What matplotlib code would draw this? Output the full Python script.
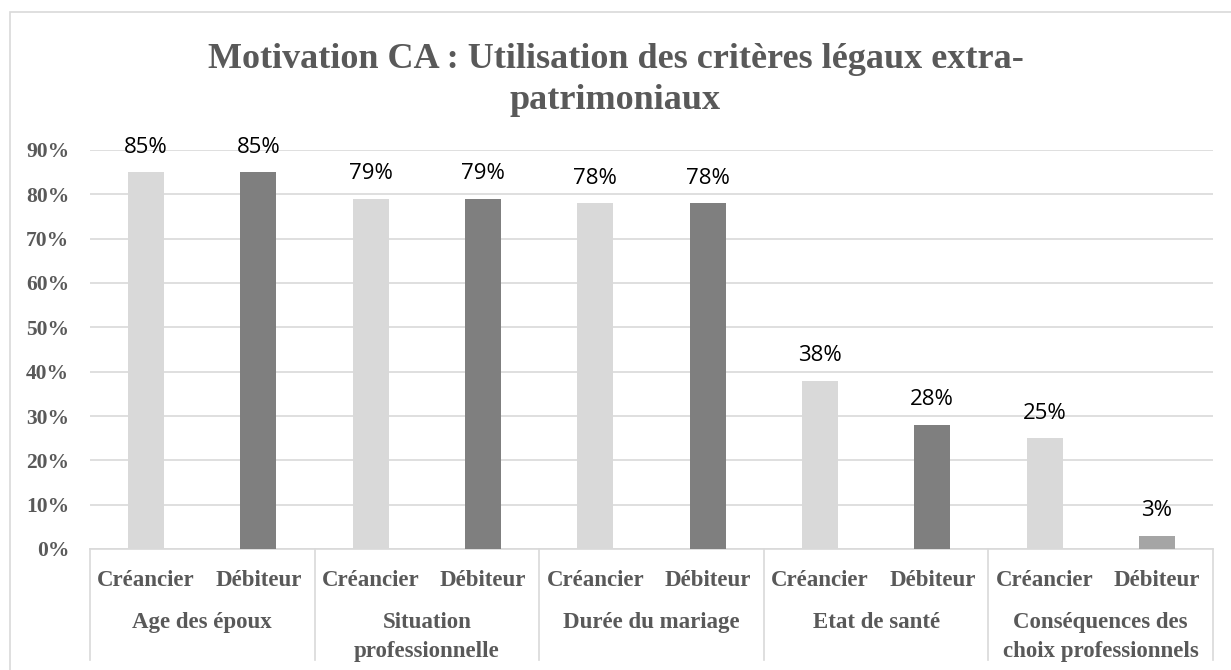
import matplotlib.pyplot as plt
from matplotlib.patches import Rectangle
import numpy as np

groups = ["Age des époux", "Situation\nprofessionnelle", "Durée du mariage",
          "Etat de santé", "Conséquences des\nchoix professionnels"]
roles = ["Créancier", "Débiteur"]
creancier = [0.85, 0.79, 0.78, 0.38, 0.25]
debiteur = [0.85, 0.79, 0.78, 0.28, 0.03]
y_ticks = [0, 0.1, 0.2, 0.3, 0.4, 0.5, 0.6, 0.7, 0.8, 0.9]

grey_txt = "#595959"
serif = ["Liberation Serif", "DejaVu Serif"]

fig = plt.figure(figsize=(12.31, 6.70), dpi=100)
fig.patches.append(Rectangle((10 / 1231, -0.1), 1.2, 1 - 12 / 670 + 0.1,
                             transform=fig.transFigure, fill=False,
                             edgecolor="#d9d9d9", linewidth=1.2))
ax = fig.add_axes([90 / 1231, 1 - 549 / 670, 1123 / 1231, 399 / 670])

# interleave the two series: Créancier, Débiteur per group
values = []
for c, d in zip(creancier, debiteur):
    values += [c, d]
x = np.arange(len(values))
colors = []
for i in range(len(creancier)):
    colors += ["#d9d9d9", "#7f7f7f" if i < 4 else "#a5a5a5"]

ax.bar(x, values, width=0.32, color=colors, zorder=3)
for xi, v in zip(x, values):
    ax.annotate(f"{v * 100:.0f}%", (xi, v), xytext=(0, 18), textcoords="offset points",
                ha="center", va="center", fontsize=16, family="Open Sans",
                color="black", annotation_clip=False)

ax.set_xlim(-0.5, len(values) - 0.5)
ax.set_ylim(0, 0.9)
ax.set_yticks(y_ticks)
ax.set_yticklabels([f"{t * 100:.0f}%" for t in y_ticks], family=serif,
                   fontweight="bold", fontsize=15.5, color=grey_txt)
ax.grid(axis="y", color="#d9d9d9", linewidth=1.2, zorder=0)
for s in ["top", "right", "left"]:
    ax.spines[s].set_visible(False)
ax.spines["bottom"].set_color("#d9d9d9")
ax.spines["bottom"].set_linewidth(1.2)
ax.tick_params(axis="y", length=0, pad=15)
ax.tick_params(axis="x", length=0, pad=15)
ax.set_xticks(x)
ax.set_xticklabels(roles * len(groups), family=serif, fontweight="bold",
                   fontsize=16.5, color=grey_txt)

# group separators and group labels below the axis
trans = ax.get_xaxis_transform()
for b in np.arange(-0.5, len(values), 2):
    ax.plot([b, b], [0, -111 / 399], transform=trans, color="#d9d9d9",
            linewidth=1.2, clip_on=False)
for i, g in enumerate(groups):
    ax.text(2 * i + 0.5, -63 / 399, g, transform=trans, ha="center", va="top",
            family=serif, fontweight="bold", fontsize=16.5, color=grey_txt,
            linespacing=1.5)

fig.text(0.5, 1 - 80 / 670, "Motivation CA : Utilisation des critères légaux extra-\npatrimoniaux",
         ha="center", va="center", family=serif, fontweight="bold", fontsize=26,
         color=grey_txt, linespacing=1.35)

fig.savefig("out.png", dpi=100)
